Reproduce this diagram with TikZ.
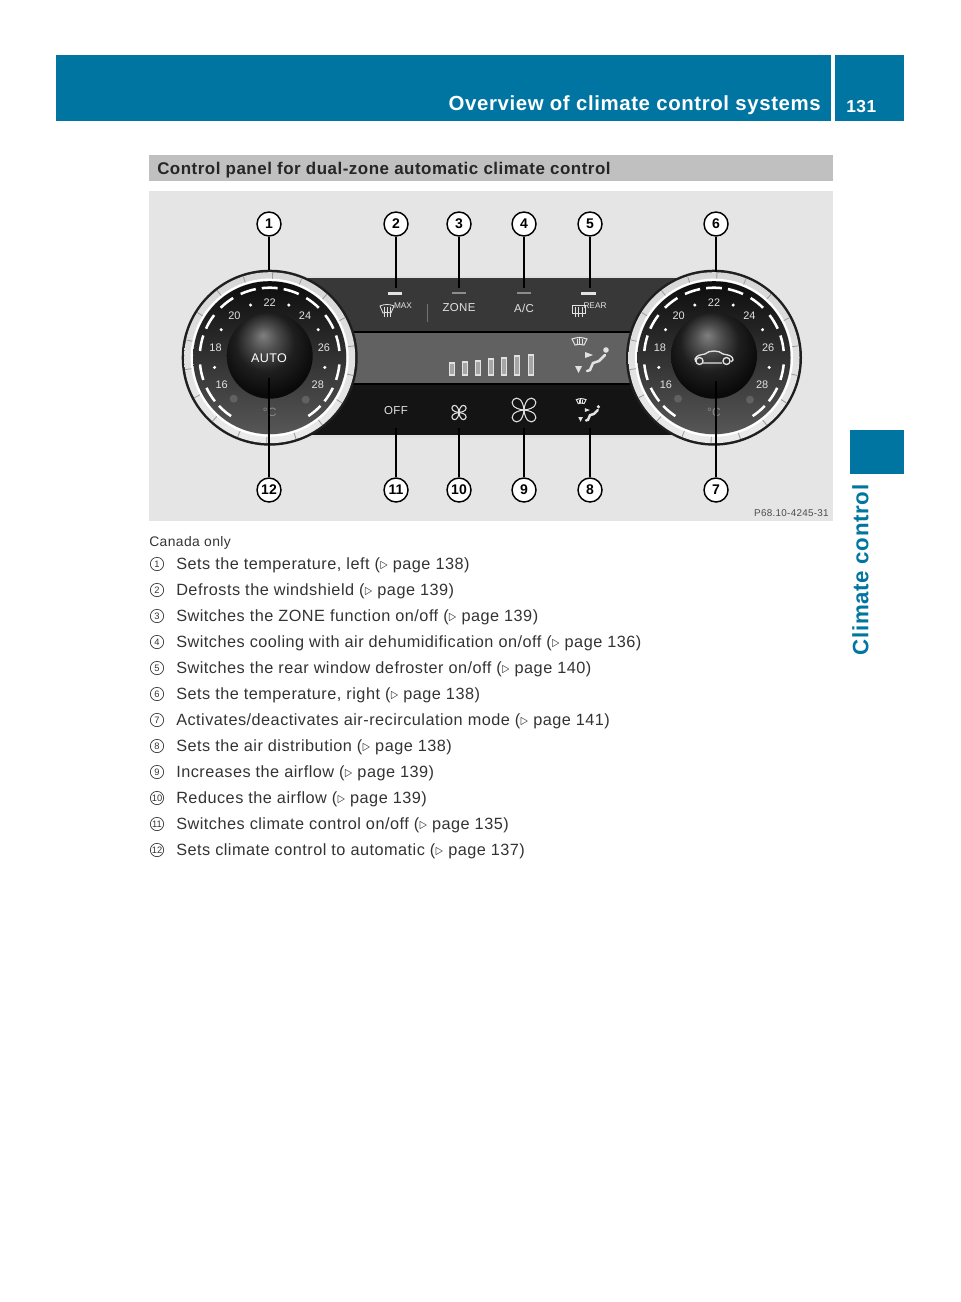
\documentclass[tikz,border=0pt]{standalone}
\usepackage{amsmath, amsfonts}
\usepackage{fontspec}
\setmainfont[LetterSpace=3]{Liberation Sans}
\usetikzlibrary{calc}
\definecolor{headblue}{HTML}{0075A1}
\definecolor{barbg}{HTML}{C0C0C0}
\definecolor{photobg}{HTML}{E5E5E5}
\definecolor{bodytxt}{HTML}{333333}
\definecolor{iconwhite}{HTML}{E2E2E2}
\pgfdeclareradialshading{knobshade}{\pgfpoint{-4bp}{12bp}}{color(0bp)=(black!50); color(8bp)=(black!70); color(17bp)=(black!88); color(28bp)=(black!96); color(50bp)=(black)}
\tikzset{
	callout/.style={circle,draw=black,line width=1.1pt,fill=white,inner sep=0pt,minimum size=18pt,font=\fontsize{10.5}{11}\bfseries\addfontfeature{LetterSpace=0}},
	leader/.style={line width=1pt,black},
	listmark/.style={circle,draw=bodytxt,line width=0.5pt,inner sep=0pt,minimum size=10pt,text=bodytxt,font=\fontsize{7}{7}\selectfont\addfontfeature{LetterSpace=0}},
	listtxt/.style={anchor=west,text=bodytxt,inner sep=0pt,font=\fontsize{12.2}{14}\selectfont},
	paneltxt/.style={text=iconwhite,inner sep=0pt,font=\fontsize{8.6}{10}\selectfont},
	dialnum/.style={text=iconwhite,inner sep=0pt,font=\fontsize{8.2}{9}\selectfont\addfontfeature{LetterSpace=0}},
	icon/.style={draw=iconwhite,line width=0.6pt},
}
\newcommand{\climatedial}[2]{
	\begin{scope}[shift={(#1,357.7)},y=0.75pt]
		\fill[black!88] (0,0) circle[radius=88];
		\shade[top color=black!16,bottom color=black!8] (0,0) circle[radius=85.5];
		\draw[white,line width=1.6pt] (0,0) circle[radius=78];
		\shade[top color=black!95,bottom color=black!66] (0,0) circle[radius=76.5];
		\foreach \a in {0,20,...,340}
			\draw[black!40,line width=0.6pt] (\a+8:79) -- (\a+8:85.5);
		\foreach \a in {90,72,52,31,12,-12,-32,-50,108,128,149,168,192,212,230}
			\draw[white,line width=1.9pt] (\a-6.5:70) arc[start angle=\a-6.5,end angle=\a+6.5,radius=70];
		\foreach \a in {110,70,150,30,190,-10}
			\fill[white] (\a:56) circle[radius=1.7];
		\foreach \a/\t in {90/22,130/20,50/24,170/18,10/26,209/16,-29/28}
			\node[dialnum] (#2t\t) at (\a:55) {\t};
		\node[dialnum,text=black!45,font=\fontsize{9}{9}\selectfont] (#2deg) at (-90:55) {\textdegree C};
		\fill[black!62] (-36,-41) circle[radius=4];
		\fill[black!62] (36,-42) circle[radius=4];
		\shade[shading=knobshade] (0,2) circle[radius=43];
	\end{scope}
}
\newcommand{\fanicon}[3]{
	\begin{scope}[shift={(#1,#2)},scale=#3]
		\foreach \a in {0,90,180,270}
			\draw[icon,line width=0.8pt,rotate=\a] (0,0) .. controls (-11,-1) and (-14,-7) .. (-10.5,-10.5) .. controls (-7,-14) and (-1,-11) .. (0,0);
	\end{scope}
}
\newcommand{\seaticon}[3]{
	\begin{scope}[shift={(#1,#2)},scale=#3]
		\draw[icon,line width=0.8pt] (-18,-19) .. controls (-12,-21) and (-9,-21) .. (-3,-19) -- (-6,-13) .. controls (-9,-14) and (-12,-14) .. (-15,-13) -- cycle;
		\draw[icon] (-13,-19) -- (-13,-14) (-11,-20) -- (-11,-14) (-8,-19) -- (-8,-14);
		\fill[iconwhite] (-5,-6) -- (3,-3) -- (-5,0) -- cycle;
		\fill[iconwhite] (-15,8) -- (-8,8) -- (-11.5,15) -- cycle;
		\fill[iconwhite] (16,-8) circle[radius=2.8];
		\draw[icon,line width=1.9pt,line cap=round] (15,-3) -- (9,3) -- (3,5) -- (0,12) -- (-3,13);
	\end{scope}
}
\begin{document}
\begin{tikzpicture}[x=0.75pt,y=-0.75pt]
	\useasboundingbox (0,0) rectangle (960,1302);
	\fill[headblue] (56,55) rectangle (831,121);
	\fill[headblue] (835,55) rectangle (904,121);
	\fill[headblue] (850,430) rectangle (904,474);
	\fill[barbg] (149,155) rectangle (833,181);
	\fill[photobg] (149,191) rectangle (833,521);

	\draw (821,105.5) node[anchor=east,inner sep=0pt,text=white,font=\fontsize{15.3}{18}\bfseries] (headtxt) {Overview of climate control systems}
	(846,107) node[anchor=west,inner sep=0pt,text=white,font=\fontsize{13}{15}\bfseries] (headnum) {131}
	(860.5,570) node[rotate=90,inner sep=0pt,text=headblue,font=\fontsize{16.7}{20}\bfseries] (sidetxt) {Climate control}
	(157,170) node[anchor=west,inner sep=0pt,text=black!85,font=\fontsize{12.7}{15}\bfseries] (titletxt) {Control panel for dual-zone automatic climate control}
	(149,542.5) node[anchor=west,inner sep=0pt,text=bodytxt,font=\fontsize{10.4}{13}\selectfont] (canada) {Canada only}
	(829,513) node[anchor=east,inner sep=0pt,text=black!70,font=\fontsize{7.4}{9}\selectfont] (partno) {P68.10-4245-31};

	\fill[black!12] (300,276) rectangle (680,438);
	\fill[black!78] (300,278) rectangle (680,332);
	\fill[black!62] (300,332) rectangle (680,384);
	\fill[black!92] (300,384) rectangle (680,435);
	\draw[black,line width=0.8pt] (300,332) -- (680,332) (300,384) -- (680,384);
	\draw[black!55] (427,304) -- (427,322);

	\fill[iconwhite] (388,292) rectangle (402,295);
	\fill[black!45] (452,292) rectangle (466,294);
	\fill[black!45] (517,292) rectangle (531,294);
	\fill[iconwhite] (581,292) rectangle (596,295);

	\draw (459,308) node[paneltxt] (zone) {ZONE}
	(524,308) node[paneltxt] (ac) {A/C}
	(396,411) node[paneltxt] (off) {OFF}
	(403,306) node[paneltxt,font=\fontsize{6.2}{7}\selectfont\addfontfeature{LetterSpace=0}] (maxtxt) {MAX}
	(595,306) node[paneltxt,font=\fontsize{6.2}{7}\selectfont\addfontfeature{LetterSpace=0}] (reartxt) {REAR};

	\draw[icon] (380,306) .. controls (384,304) and (390,304) .. (394,306) -- (391,313) .. controls (388,312) and (386,312) .. (383,313) -- cycle;
	\draw[icon] (384,307) -- (384,317) (387,307) -- (387,317) (390,307) -- (390,317);
	\draw[icon] (572,305) rectangle (585,313);
	\draw[icon] (575,307) -- (575,317) (578.5,307) -- (578.5,317) (582,307) -- (582,317);

	\foreach \x/\h in {452/12,465/13,478/14,491/16,504/17,517/19,531/20}
		\draw[fill=black!35,draw=iconwhite,line width=1.4pt] (\x-2.5,375-\h) rectangle (\x+2.5,375);

	\fanicon{459}{412.5}{0.6}
	\fanicon{524}{410}{1}
	\seaticon{590}{358}{1}
	\seaticon{588}{412}{0.65}

	\climatedial{269.7}{l}
	\climatedial{714}{r}

	\node[text=white,inner sep=0pt,font=\fontsize{9.4}{11}\selectfont] (auto) at (269,358) {AUTO};
	\draw[icon,line width=1pt] (695,359) .. controls (697,355) and (700,355) .. (705,354) .. controls (709,350) and (719,350) .. (723,354) .. controls (729,355) and (733,356) .. (733,360) -- (731,362) (696,362) -- (695,359) (703,363) -- (722,363);
	\draw[icon,line width=1pt] (699.5,361) circle[radius=3.5] (726.5,361) circle[radius=3.5];

	\draw (269,224) node[callout] (c1) {1}
	(396,224) node[callout] (c2) {2}
	(459,224) node[callout] (c3) {3}
	(524,224) node[callout] (c4) {4}
	(590,224) node[callout] (c5) {5}
	(716,224) node[callout] (c6) {6}
	(716,490) node[callout] (c7) {7}
	(590,490) node[callout] (c8) {8}
	(524,490) node[callout] (c9) {9}
	(459,490) node[callout] (c10) {10}
	(396,490) node[callout] (c11) {11}
	(269,490) node[callout] (c12) {12};

	\coordinate (e1) at (269,270);
	\coordinate (e2) at (396,288);
	\coordinate (e3) at (459,288);
	\coordinate (e4) at (524,288);
	\coordinate (e5) at (590,288);
	\coordinate (e6) at (716,272);
	\coordinate (e7) at (716,381);
	\coordinate (e8) at (590,428);
	\coordinate (e9) at (524,428);
	\coordinate (e10) at (459,428);
	\coordinate (e11) at (396,428);
	\coordinate (e12) at (269,378);

	\foreach \n in {1,...,12}
		\draw[leader] (c\n) -- (e\n);

	\foreach \n/\txt/\pg in {1/{Sets the temperature, left}/138,2/{Defrosts the windshield}/139,3/{Switches the ZONE function on/off}/139,4/{Switches cooling with air dehumidification on/off}/136,5/{Switches the rear window defroster on/off}/140,6/{Sets the temperature, right}/138,7/{Activates/deactivates air-recirculation mode}/141,8/{Sets the air distribution}/138,9/{Increases the airflow}/139,10/{Reduces the airflow}/139,11/{Switches climate control on/off}/135,12/{Sets climate control to automatic}/137}{
		\node[listmark] (m\n) at (157,{564+26*(\n-1)}) {\n};
		\node[listtxt] (t\n) at (176,{565+26*(\n-1)}) {\txt\ ($\triangleright$ page \pg)};
	}
\end{tikzpicture}
\end{document}
